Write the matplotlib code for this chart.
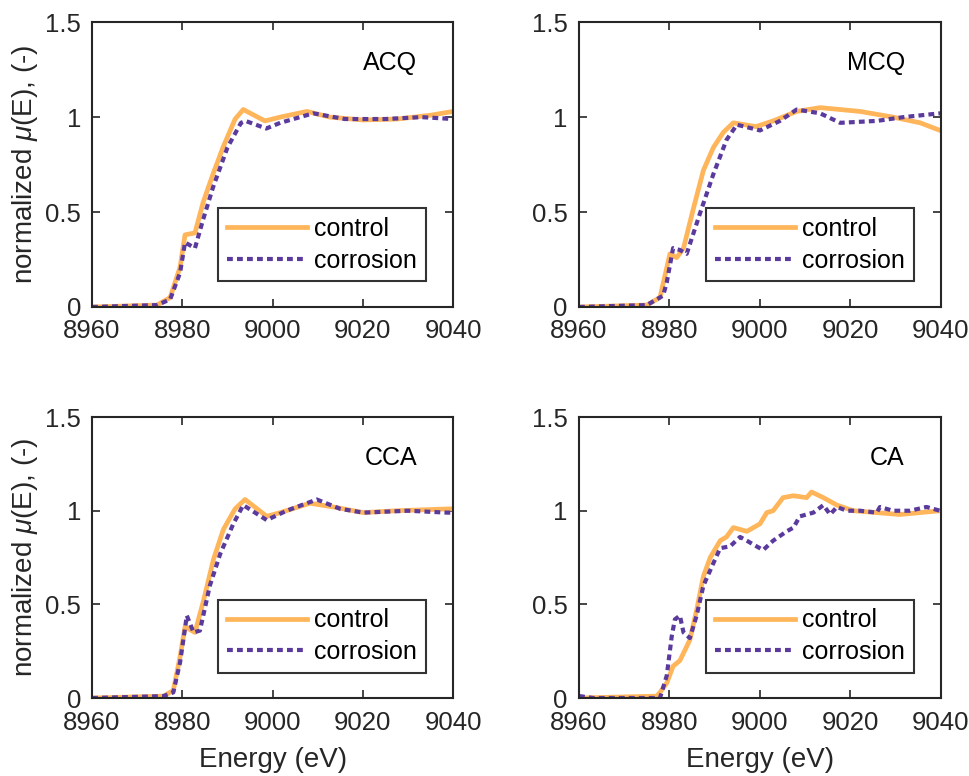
import matplotlib.pyplot as plt

plt.rcParams['font.family'] = ['Liberation Sans', 'DejaVu Sans']
plt.rcParams['mathtext.fontset'] = 'custom'
plt.rcParams['mathtext.it'] = 'Liberation Sans:italic'

# ACQ
acq_ctrl_e = [8960, 8974.4, 8977.3, 8979.5, 8980.6, 8982.8, 8984.6, 8986.8, 8989.0, 8991.7,
              8993.5, 8998.3, 9001.7, 9007.6, 9012.7, 9020.0, 9027.6, 9035.0, 9040]
acq_ctrl_y = [0.0, 0.01, 0.05, 0.21, 0.38, 0.39, 0.55, 0.70, 0.84, 0.99,
              1.04, 0.98, 1.00, 1.03, 1.00, 0.985, 0.99, 1.01, 1.03]
acq_corr_e = [8960, 8974.4, 8977.3, 8979.5, 8980.6, 8982.8, 8984.6, 8986.8, 8990.0, 8993.0,
              8994.0, 8998.6, 9001.7, 9009.0, 9016.0, 9025.0, 9033.0, 9040]
acq_corr_y = [0.0, 0.01, 0.04, 0.18, 0.34, 0.31, 0.46, 0.63, 0.84, 0.97,
              0.98, 0.94, 0.97, 1.02, 0.99, 0.99, 1.00, 0.99]

# MCQ
mcq_ctrl_e = [8960, 8975.0, 8977.9, 8980.1, 8981.6, 8983.1, 8985.3, 8987.5, 8989.7, 8991.9,
              8994.1, 8999.1, 9002.9, 9008.1, 9013.3, 9022.1, 9029.4, 9035.4, 9039.8]
mcq_ctrl_y = [0.0, 0.01, 0.05, 0.28, 0.26, 0.31, 0.52, 0.72, 0.84, 0.92,
              0.97, 0.95, 0.98, 1.03, 1.05, 1.03, 1.00, 0.97, 0.93]
mcq_corr_e = [8960, 8975.0, 8978.6, 8979.4, 8980.8, 8982.3, 8983.8, 8986.7, 8989.7, 8992.6,
              8994.9, 9000.0, 9004.4, 9008.1, 9013.3, 9017.7, 9025.8, 9031.7, 9039.8]
mcq_corr_y = [0.0, 0.01, 0.06, 0.13, 0.31, 0.30, 0.28, 0.49, 0.70, 0.88,
              0.96, 0.93, 0.98, 1.04, 1.02, 0.97, 0.98, 1.00, 1.02]

# CCA
cca_ctrl_e = [8960, 8975.8, 8978.0, 8979.5, 8980.6, 8982.8, 8984.7, 8986.9, 8989.1, 8991.7,
              8993.9, 8998.7, 9001.7, 9008.3, 9013.5, 9020.1, 9027.5, 9039.3, 9040]
cca_ctrl_y = [0.0, 0.01, 0.04, 0.22, 0.38, 0.35, 0.52, 0.74, 0.90, 1.01,
              1.06, 0.97, 0.99, 1.04, 1.02, 0.99, 1.00, 1.01, 1.01]
cca_corr_e = [8960, 8975.8, 8978.0, 8979.5, 8981.0, 8982.5, 8983.9, 8986.1, 8988.4, 8991.3,
              8993.5, 8998.7, 9003.1, 9009.8, 9015.0, 9020.1, 9030.0, 9038.6, 9040]
cca_corr_y = [0.0, 0.01, 0.03, 0.19, 0.44, 0.35, 0.36, 0.60, 0.77, 0.93,
              1.03, 0.95, 1.00, 1.06, 1.01, 0.99, 1.00, 0.99, 0.99]

# CA
ca_ctrl_e = [8960, 8977.2, 8977.9, 8979.4, 8980.8, 8982.3, 8984.5, 8986.0, 8987.5, 8989.0,
             8991.2, 8992.6, 8994.1, 8997.1, 9000.0, 9001.5, 9002.9, 9005.1, 9007.4, 9010.3,
             9011.4, 9014.0, 9017.0, 9020.6, 9025.8, 9030.9, 9039.8]
ca_ctrl_y = [0.0, 0.01, 0.03, 0.08, 0.17, 0.20, 0.31, 0.47, 0.65, 0.75,
             0.84, 0.86, 0.91, 0.89, 0.93, 0.99, 1.00, 1.07, 1.08, 1.07,
             1.10, 1.07, 1.03, 1.00, 0.99, 0.98, 1.00]
ca_corr_e = [8960, 8960.2, 8963.2, 8977.9, 8979.4, 8980.5, 8981.2, 8982.3, 8983.1, 8984.5,
             8986.0, 8987.5, 8989.7, 8991.2, 8993.4, 8995.6, 8997.1, 8998.5, 9000.7, 9002.9,
             9005.9, 9007.4, 9008.8, 9011.8, 9014.0, 9015.5, 9017.0, 9019.2, 9022.1, 9025.8,
             9026.5, 9029.4, 9033.1, 9036.8, 9039.8]
ca_corr_y = [0.01, 0.01, 0.0, 0.0, 0.12, 0.33, 0.42, 0.44, 0.35, 0.32,
             0.44, 0.60, 0.72, 0.80, 0.81, 0.86, 0.84, 0.82, 0.79, 0.84,
             0.89, 0.91, 0.97, 0.99, 1.03, 0.98, 1.02, 1.00, 1.00, 0.99,
             1.02, 1.00, 1.00, 1.02, 1.00]

panels = [
    ("ACQ", acq_ctrl_e, acq_ctrl_y, acq_corr_e, acq_corr_y),
    ("MCQ", mcq_ctrl_e, mcq_ctrl_y, mcq_corr_e, mcq_corr_y),
    ("CCA", cca_ctrl_e, cca_ctrl_y, cca_corr_e, cca_corr_y),
    ("CA", ca_ctrl_e, ca_ctrl_y, ca_corr_e, ca_corr_y),
]

xticks = [8960, 8980, 9000, 9020, 9040]
yticks = [0, 0.5, 1, 1.5]
ytick_labels = ["0", "0.5", "1", "1.5"]

dark = '#262626'
ctrl_color = '#FFB55A'
corr_color = '#5B3A9E'

fig = plt.figure(figsize=(9.69, 7.76), dpi=100)
rects = [
    [0.095, 0.6044, 0.3726, 0.367],
    [0.5975, 0.6044, 0.3736, 0.367],
    [0.095, 0.1005, 0.3726, 0.362],
    [0.5975, 0.1005, 0.3736, 0.362],
]

for i, (name, ce, cy, re, ry) in enumerate(panels):
    ax = fig.add_axes(rects[i])
    ax.plot(ce, cy, color=ctrl_color, lw=3.4, label='control')
    ax.plot(re, ry, color=corr_color, lw=3.0, linestyle=(0, (1.4, 1.0)), label='corrosion')
    ax.set_xlim(8960, 9040)
    ax.set_ylim(0, 1.5)
    ax.set_xticks(xticks)
    ax.set_yticks(yticks)
    ax.set_yticklabels(ytick_labels)
    ax.tick_params(direction='in', length=6, width=1.2, top=True, right=True,
                   labelsize=18.5, colors=dark)
    ax.tick_params(axis='x', pad=9)
    ax.tick_params(axis='y', pad=8)
    for sp in ax.spines.values():
        sp.set_linewidth(1.5)
        sp.set_color(dark)
    ax.text(0.9, 0.855, name, transform=ax.transAxes, ha='right', va='center',
            fontsize=18, color='black')
    leg = ax.legend(loc='lower right', bbox_to_anchor=(0.925, 0.09), fontsize=18,
                    frameon=True, fancybox=False, edgecolor='black', handlelength=3.2,
                    borderpad=0.35, labelspacing=0.3, handletextpad=0.3, borderaxespad=0)
    leg.get_frame().set_linewidth(1.5)
    for t in leg.get_texts():
        t.set_color('black')
    if i % 2 == 0:
        ax.set_ylabel(r'normalized $\mu$(E), (-)', fontsize=20, color=dark, labelpad=4)
    if i >= 2:
        ax.set_xlabel('Energy (eV)', fontsize=20, color=dark, labelpad=9)

fig.savefig('out.png', dpi=100)
